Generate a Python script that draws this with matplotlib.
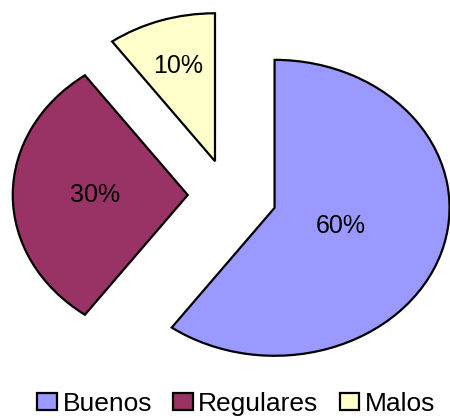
import numpy as np
import matplotlib.pyplot as plt

labels = ['Buenos', 'Regulares', 'Malos']
values = [60, 30, 10]
colors = ['#9999FF', '#993366', '#FFFFCC']
explode = [0.28, 0.23, 0.24]
label_dist = [0.40, 0.53, 0.68]


def main():
    plt.rcParams['font.family'] = ['Liberation Sans', 'DejaVu Sans']
    fig = plt.figure(figsize=(4.5, 4.18), dpi=100)
    ax = fig.add_axes([0, 0, 1, 1])

    wedges, texts, autotexts = ax.pie(
        values, colors=colors, explode=explode, startangle=90,
        counterclock=False, autopct='%1.0f%%', radius=1.0,
        wedgeprops=dict(edgecolor='black', linewidth=1.6),
        textprops=dict(fontsize=18, color='black'))

    # move the percent labels to where Excel put them
    for w, t, d in zip(wedges, autotexts, label_dist):
        mid = np.deg2rad((w.theta1 + w.theta2) / 2)
        cx, cy = w.center
        t.set_position((cx + d * np.cos(mid), cy + d * np.sin(mid)))

    ax.set_aspect('auto')
    ax.set_xlim(-1.303, 1.269)
    ax.set_ylim(-1.507, 1.318)
    ax.axis('off')

    ax.legend(wedges, labels, loc='center', bbox_to_anchor=(0.525, 0.034),
              bbox_transform=fig.transFigure, ncol=3, frameon=False,
              fontsize=19, handlelength=0.75, handleheight=0.6,
              handletextpad=0.2, columnspacing=0.8, borderpad=0)

    plt.savefig('out.png', dpi=100)


if __name__ == '__main__':
    main()
